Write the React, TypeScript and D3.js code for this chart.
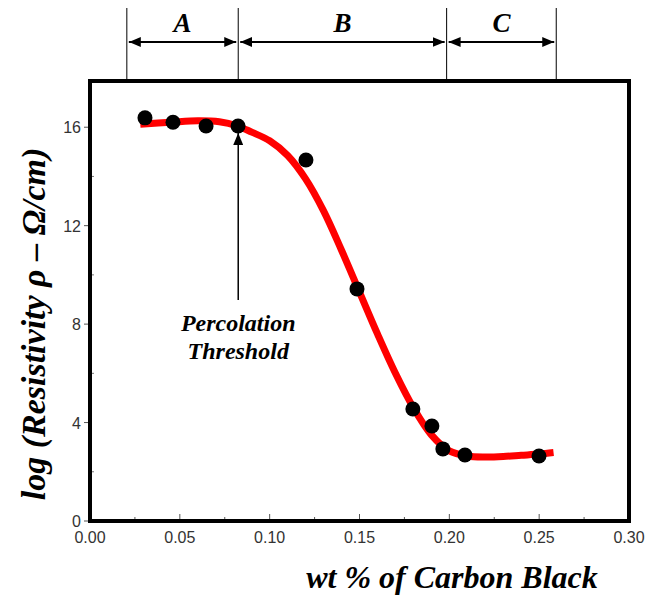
import React from "react";
import * as d3 from "d3";

const pointX = [0.0306, 0.0462, 0.0646, 0.0824, 0.1202, 0.1486, 0.1797, 0.1903, 0.1964, 0.2087, 0.2499];
const pointY = [16.38, 16.2, 16.05, 16.05, 14.67, 9.43, 4.55, 3.86, 2.93, 2.68, 2.64];

const curveX = [0.028, 0.045, 0.06, 0.072, 0.082, 0.09, 0.1, 0.11, 0.12, 0.13, 0.14, 0.15, 0.16, 0.17, 0.18, 0.19, 0.2, 0.21, 0.22, 0.23, 0.24, 0.25, 0.258];
const curveY = [16.12, 16.2, 16.26, 16.22, 16.05, 15.8, 15.45, 14.85, 13.9, 12.6, 11.0, 9.3, 7.6, 6.0, 4.6, 3.5, 2.85, 2.64, 2.6, 2.62, 2.67, 2.72, 2.78];

const xTicks = [0, 0.05, 0.1, 0.15, 0.2, 0.25, 0.3];
const xMinorTicks = [0.025, 0.075, 0.125, 0.175, 0.225, 0.275];
const yTicks = [0, 4, 8, 12, 16];
const yMinorTicks = [2, 6, 10, 14];

const regionBounds = [0.0205, 0.0825, 0.1985, 0.2595];
const regionLabels = ["A", "B", "C"];

const thresholdX = 0.0825;

export default function App() {
  const W = 645, H = 596;
  const x = d3.scaleLinear().domain([0, 0.3]).range([90, 629]);
  const y = d3.scaleLinear().domain([0, 18]).range([521, 78]);
  const line = d3
    .line<number>()
    .x((_, i) => x(curveX[i]))
    .y((d) => y(d))
    .curve(d3.curveCatmullRom.alpha(0.5));
  const serif = "'Liberation Serif', 'Times New Roman', serif";
  const sans = "'Liberation Sans', Arial, sans-serif";
  const arrowY = 42;
  const tx = x(thresholdX);
  return (
    <svg width={W} height={H} style={{ position: "absolute", left: 0, top: 0, background: "#fff" }}>
      <defs>
        <marker id="ah" viewBox="0 0 12 10" refX="12" refY="5" markerWidth="12" markerHeight="10" markerUnits="userSpaceOnUse" orient="auto-start-reverse">
          <path d="M0,0 L12,5 L0,10 Z" fill="#000" />
        </marker>
      </defs>
      {regionBounds.map((b, i) => (
        <line key={"rb" + i} x1={x(b)} x2={x(b)} y1={8} y2={81} stroke="#000" strokeWidth={1} />
      ))}
      {regionLabels.map((lab, i) => {
        const a = x(regionBounds[i]) + 2;
        const b = x(regionBounds[i + 1]) - 2;
        return (
          <g key={"rl" + i}>
            <line x1={a} x2={b} y1={arrowY} y2={arrowY} stroke="#000" strokeWidth={2} markerStart="url(#ah)" markerEnd="url(#ah)" />
            <text x={(a + b) / 2} y={32} textAnchor="middle" fontFamily={serif} fontWeight="bold" fontStyle="italic" fontSize={27}>
              {lab}
            </text>
          </g>
        );
      })}
      <path d={line(curveY) || ""} fill="none" stroke="#ff0000" strokeWidth={7} />
      {pointX.map((px, i) => (
        <circle key={"p" + i} cx={x(px)} cy={y(pointY[i])} r={7.5} fill="#000" />
      ))}
      <line x1={tx} x2={tx} y1={300} y2={133} stroke="#000" strokeWidth={1.5} markerEnd="url(#ah)" />
      <text x={tx} y={331} textAnchor="middle" fontFamily={serif} fontWeight="bold" fontStyle="italic" fontSize={24}>Percolation</text>
      <text x={tx} y={359} textAnchor="middle" fontFamily={serif} fontWeight="bold" fontStyle="italic" fontSize={24}>Threshold</text>
      {xTicks.map((t) => (
        <g key={"xt" + t}>
          <line x1={x(t)} x2={x(t)} y1={521} y2={514} stroke="#555" strokeWidth={1} />
          <text x={x(t)} y={543} textAnchor="middle" fontFamily={sans} fontSize={16} fill="#333">{t.toFixed(2)}</text>
        </g>
      ))}
      {xMinorTicks.map((t) => (
        <line key={"xm" + t} x1={x(t)} x2={x(t)} y1={521} y2={517} stroke="#555" strokeWidth={1} />
      ))}
      {yTicks.map((t) => (
        <g key={"yt" + t}>
          <line x1={84} x2={90} y1={y(t)} y2={y(t)} stroke="#555" strokeWidth={1} />
          <text x={81} y={y(t) + 6} textAnchor="end" fontFamily={sans} fontSize={16} fill="#333">{t}</text>
        </g>
      ))}
      {yMinorTicks.map((t) => (
        <line key={"ym" + t} x1={90} x2={94} y1={y(t)} y2={y(t)} stroke="#777" strokeWidth={1} />
      ))}
      <rect x={90} y={81} width={539} height={440} fill="none" stroke="#000" strokeWidth={4} />
      <text x={452} y={588} textAnchor="middle" fontFamily={serif} fontWeight="bold" fontStyle="italic" fontSize={32}>wt % of Carbon Black</text>
      <text transform="translate(45,324) rotate(-90)" textAnchor="middle" fontFamily={serif} fontWeight="bold" fontStyle="italic" fontSize={34}>log (Resistivity ρ – Ω/cm)</text>
    </svg>
  );
}
